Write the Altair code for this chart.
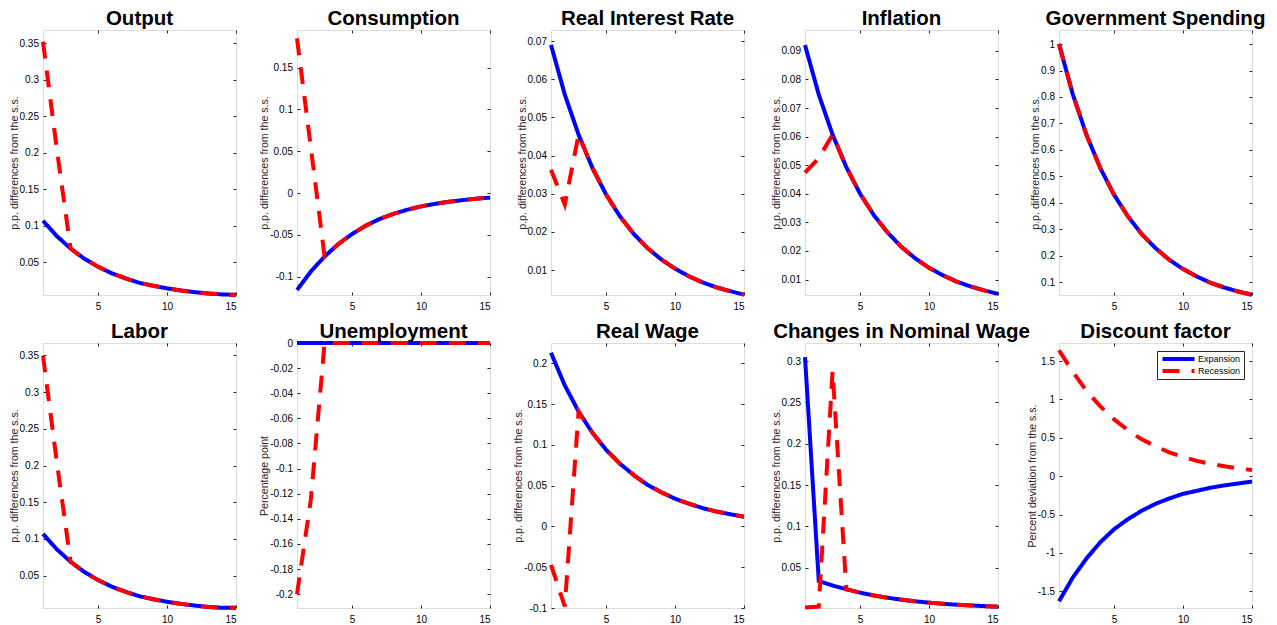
import altair as alt
import pandas as pd

periods = list(range(1, 16))
series_names = ["Expansion", "Recession"]

titles = ["Output", "Consumption", "Real Interest Rate", "Inflation", "Government Spending",
          "Labor", "Unemployment", "Real Wage", "Changes in Nominal Wage", "Discount factor"]
pp = "p.p. differences from the s.s."
ylabels = [pp, pp, pp, pp, pp, pp, "Percentage point", pp, pp, "Percent deviation from the s.s."]

output_exp = [0.107, 0.086, 0.069, 0.055, 0.044, 0.035, 0.028, 0.022, 0.018, 0.0145, 0.0116, 0.0093, 0.0075, 0.0062, 0.0056]
output_rec = [0.352, 0.205, 0.069, 0.055, 0.044, 0.035, 0.028, 0.022, 0.018, 0.0145, 0.0116, 0.0093, 0.0075, 0.0062, 0.0056]
cons_exp = [-0.116, -0.094, -0.076, -0.061, -0.049, -0.039, -0.031, -0.025, -0.020, -0.016, -0.013, -0.0105, -0.0085, -0.0068, -0.0055]
cons_rec = [0.185, 0.055, -0.076, -0.061, -0.049, -0.039, -0.031, -0.025, -0.020, -0.016, -0.013, -0.0105, -0.0085, -0.0068, -0.0055]
rir_exp = [0.069, 0.056, 0.0455, 0.0368, 0.0298, 0.0241, 0.0195, 0.0158, 0.0128, 0.0104, 0.0084, 0.0068, 0.0055, 0.0045, 0.0036]
rir_rec = [0.0363, 0.0272, 0.0455, 0.0368, 0.0298, 0.0241, 0.0195, 0.0158, 0.0128, 0.0104, 0.0084, 0.0068, 0.0055, 0.0045, 0.0036]
infl_exp = [0.092, 0.0747, 0.0607, 0.0493, 0.040, 0.0325, 0.0264, 0.0214, 0.0174, 0.0141, 0.0115, 0.0093, 0.0076, 0.0062, 0.005]
infl_rec = [0.0474, 0.0525, 0.0607, 0.0493, 0.040, 0.0325, 0.0264, 0.0214, 0.0174, 0.0141, 0.0115, 0.0093, 0.0076, 0.0062, 0.005]
gov_exp = [1.0, 0.81, 0.656, 0.531, 0.43, 0.349, 0.282, 0.229, 0.185, 0.15, 0.122, 0.098, 0.080, 0.065, 0.053]
gov_rec = [1.0, 0.81, 0.656, 0.531, 0.43, 0.349, 0.282, 0.229, 0.185, 0.15, 0.122, 0.098, 0.080, 0.065, 0.053]
labor_exp = [0.107, 0.086, 0.069, 0.055, 0.044, 0.035, 0.028, 0.022, 0.018, 0.0145, 0.0116, 0.0093, 0.0075, 0.0062, 0.0062]
labor_rec = [0.350, 0.205, 0.069, 0.055, 0.044, 0.035, 0.028, 0.022, 0.018, 0.0145, 0.0116, 0.0093, 0.0075, 0.0062, 0.0062]
unemp_exp = [0, 0, 0, 0, 0, 0, 0, 0, 0, 0, 0, 0, 0, 0, 0]
unemp_rec = [-0.2, -0.125, 0, 0, 0, 0, 0, 0, 0, 0, 0, 0, 0, 0, 0]
rw_exp = [0.213, 0.173, 0.141, 0.115, 0.094, 0.077, 0.063, 0.051, 0.042, 0.034, 0.028, 0.0225, 0.0183, 0.015, 0.012]
rw_rec = [-0.047, -0.098, 0.141, 0.115, 0.094, 0.077, 0.063, 0.051, 0.042, 0.034, 0.028, 0.0225, 0.0183, 0.015, 0.012]
nw_exp = [0.305, 0.034, 0.0285, 0.024, 0.0198, 0.0165, 0.0137, 0.0114, 0.0094, 0.0078, 0.0064, 0.0053, 0.0044, 0.0036, 0.0029]
nw_rec = [0.0018, 0.003, 0.288, 0.024, 0.0198, 0.0165, 0.0137, 0.0114, 0.0094, 0.0078, 0.0064, 0.0053, 0.0044, 0.0036, 0.0029]
disc_exp = [-1.63, -1.32, -1.07, -0.86, -0.69, -0.56, -0.45, -0.36, -0.29, -0.23, -0.19, -0.15, -0.12, -0.095, -0.07]
disc_rec = [1.64, 1.36, 1.11, 0.91, 0.74, 0.60, 0.48, 0.39, 0.31, 0.25, 0.20, 0.16, 0.13, 0.10, 0.08]

y_domains = [[0.0054, 0.368], [-0.122, 0.195], [0.0035, 0.0729], [0.0046, 0.0973], [0.052, 1.053],
             [0.006, 0.367], [-0.211, 0.0], [-0.1, 0.225], [0.0013, 0.322], [-1.717, 1.735]]
y_ticks = [
    [0.05, 0.1, 0.15, 0.2, 0.25, 0.3, 0.35],
    [-0.1, -0.05, 0, 0.05, 0.1, 0.15],
    [0.01, 0.02, 0.03, 0.04, 0.05, 0.06, 0.07],
    [0.01, 0.02, 0.03, 0.04, 0.05, 0.06, 0.07, 0.08, 0.09],
    [0.1, 0.2, 0.3, 0.4, 0.5, 0.6, 0.7, 0.8, 0.9, 1],
    [0.05, 0.1, 0.15, 0.2, 0.25, 0.3, 0.35],
    [0, -0.02, -0.04, -0.06, -0.08, -0.1, -0.12, -0.14, -0.16, -0.18, -0.2],
    [-0.1, -0.05, 0, 0.05, 0.1, 0.15, 0.2],
    [0.05, 0.1, 0.15, 0.2, 0.25, 0.3],
    [-1.5, -1, -0.5, 0, 0.5, 1, 1.5],
]
x_ticks = [5, 10, 15]

series_data = [(output_exp, output_rec), (cons_exp, cons_rec), (rir_exp, rir_rec), (infl_exp, infl_rec),
               (gov_exp, gov_rec), (labor_exp, labor_rec), (unemp_exp, unemp_rec), (rw_exp, rw_rec),
               (nw_exp, nw_rec), (disc_exp, disc_rec)]

FONT = "Liberation Sans"
AXC = "#262626"
PW, PH = 193, 265


def panel(i):
    exp, rec = series_data[i]
    df = pd.DataFrame({
        "t": periods + periods,
        "value": exp + rec,
        "series": [series_names[0]] * 15 + [series_names[1]] * 15,
    })
    xs = alt.Scale(domain=[1, 15], nice=False, zero=False)
    ys = alt.Scale(domain=y_domains[i], nice=False, zero=False)
    lab = "toString(datum.value)"
    common = dict(offset=-3, tickSize=3, domain=False, grid=False, tickColor=AXC, minExtent=0, maxExtent=200)
    x_main = alt.X("t:Q", scale=xs, axis=alt.Axis(values=x_ticks, title=None, orient="bottom",
                                                  labelPadding=6, labelExpr=lab, **common))
    y_main = alt.Y("value:Q", scale=ys, axis=alt.Axis(values=y_ticks[i], title=ylabels[i], orient="left",
                                                      labelPadding=4.5, labelExpr=lab, titlePadding=0,
                                                      titleFontWeight="normal", titleFont=FONT,
                                                      titleFontSize=10.6, titleColor=AXC, **common))
    if i == 9:
        leg = alt.Legend(title=None, orient="top-right", offset=8, symbolType="M-8,0H8", symbolSize=16,
                         symbolStrokeWidth=4, symbolOffset=14, labelFontSize=9, labelFont=FONT,
                         labelColor="#000000", padding=3, strokeColor=AXC, fillColor="white",
                         labelOffset=15, rowPadding=2, clipHeight=10)
    else:
        leg = None
    color = alt.Color("series:N", scale=alt.Scale(domain=series_names, range=["#0000ff", "#ff0000"]), legend=leg)
    dash = alt.StrokeDash("series:N", scale=alt.Scale(domain=series_names, range=[[1, 0], [17, 12]]), legend=leg)
    lines = alt.Chart(df).mark_line(strokeWidth=4, clip=False).encode(x=x_main, y=y_main, color=color, strokeDash=dash)

    x_top = alt.X("t:Q", scale=xs, axis=alt.Axis(values=x_ticks, title=None, orient="top", labels=False, **common))
    y_right = alt.Y("value:Q", scale=ys, axis=alt.Axis(values=y_ticks[i], title=None, orient="right",
                                                       labels=False, **common))
    frame = alt.Chart(df).mark_line(opacity=0).encode(x=x_top, y=y_right)

    head = alt.Chart(pd.DataFrame({"name": [titles[i]]})).mark_text(
        font=FONT, fontSize=20.5, fontWeight="bold", color="#000000", align="center", baseline="alphabetic"
    ).encode(text="name:N", x=alt.value(PW / 2), y=alt.value(-5.5))

    return alt.layer(lines, frame, head).resolve_axis(x="independent", y="independent").properties(
        width=PW, height=PH)


chart = alt.concat(*[panel(i) for i in range(10)], columns=5, spacing=alt.RowColnumber(row=48, column=61),
                   bounds="flush").resolve_scale(color="independent", strokeDash="independent").properties(
    padding={"left": 0, "top": 0, "right": 0, "bottom": 0}
).configure_view(stroke=AXC, strokeWidth=1).configure_axis(
    labelFont=FONT, labelFontSize=10, labelColor=AXC, titleFont=FONT, titleFontSize=10.6,
    titleFontWeight="normal", titleColor=AXC
).configure(background="white")

chart.save("out.html", embed_options={"renderer": "svg", "actions": False})
